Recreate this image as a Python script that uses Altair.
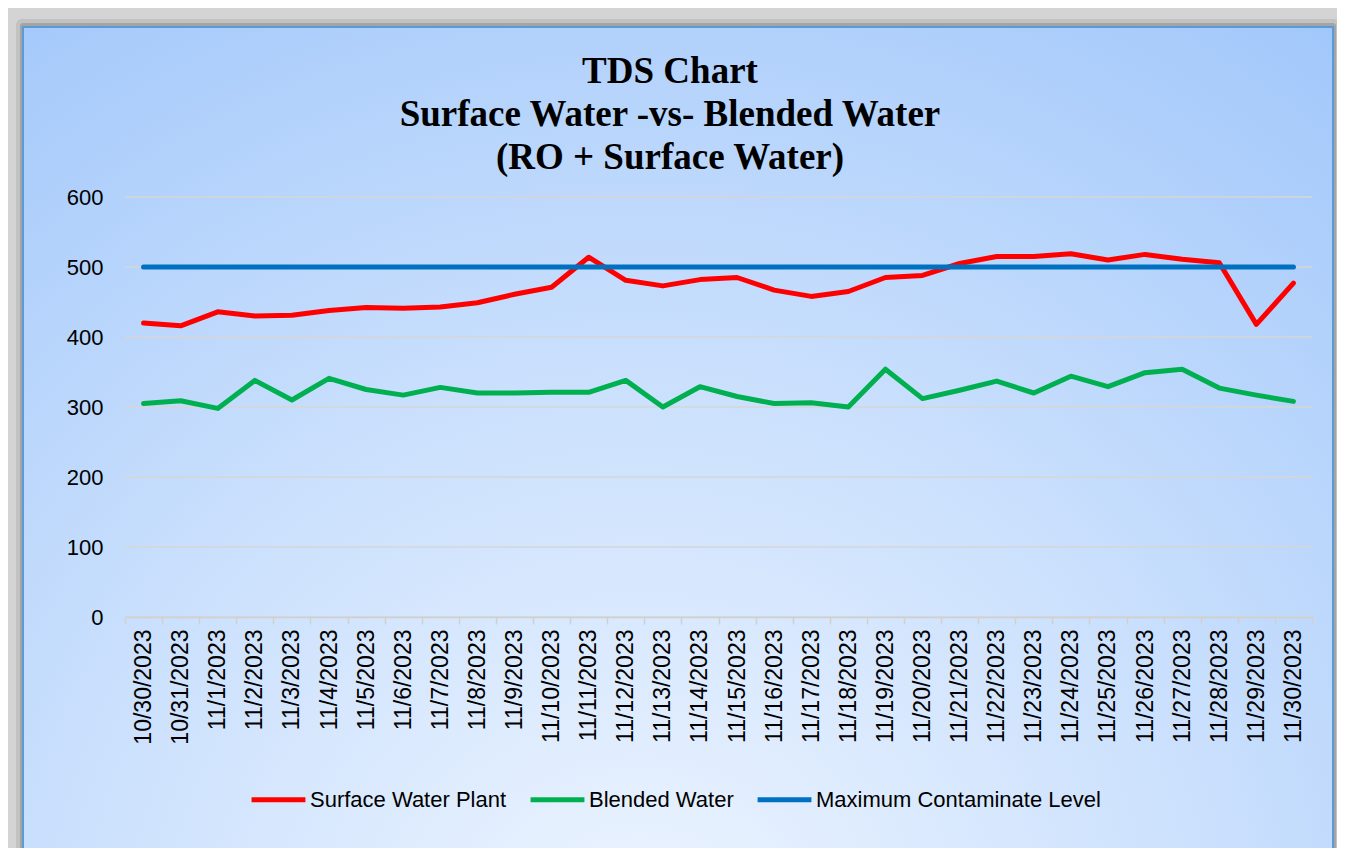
import altair as alt
import pandas as pd

dates = ["10/30/2023", "10/31/2023"] + [f"11/{d}/2023" for d in range(1, 31)]
surface = [420, 416, 436, 430, 431, 438, 442, 441, 443, 449, 461, 471, 514, 481, 473, 482,
           485, 467, 458, 465, 485, 488, 505, 515, 515, 519, 510, 518, 511, 506, 418, 477]
blended = [305, 309, 298, 338, 310, 341, 325, 317, 328, 320, 320, 321, 321, 338, 300, 329,
           315, 305, 306, 300, 354, 312, 324, 337, 320, 344, 329, 349, 354, 327, 317, 308]
mcl = [500] * len(dates)
series_names = ["Surface Water Plant", "Blended Water", "Maximum Contaminate Level"]
series_colors = ["#ff0000", "#00b050", "#0070c0"]
y_ticks = [0, 100, 200, 300, 400, 500, 600]
title_lines = ["TDS Chart", "Surface Water -vs- Blended Water", "(RO + Surface Water)"]

W, H = 1187, 420

frames = []
for name, vals in zip(series_names, [surface, blended, mcl]):
    frames.append(pd.DataFrame({"date": dates, "value": vals, "series": name}))
df = pd.concat(frames, ignore_index=True)

one = pd.DataFrame({"a": [0]})

x_enc = alt.X("date:N", sort=dates, bandPosition=0.5,
              scale=alt.Scale(type="band", paddingInner=0, paddingOuter=0),
              axis=alt.Axis(title=None, labelAngle=270, tickBand="extent", grid=False,
                            labelFont="Liberation Sans", labelFontSize=23, labelColor="#000000",
                            domainColor="#d0d0d0", domainWidth=1.5, tickColor="#d0d0d0",
                            tickWidth=1.5, tickSize=7, labelPadding=5, zindex=1))
y_scale = alt.Scale(domain=[0, 600], nice=False, zero=True)
y_axis = alt.Axis(title=None, values=y_ticks, grid=False, domain=False, ticks=False,
                  labelFont="Liberation Sans", labelFontSize=22, labelColor="#000000",
                  labelPadding=22, zindex=1)
y_enc = alt.Y("value:Q", scale=y_scale, axis=y_axis)
color_enc = alt.Color("series:N", scale=alt.Scale(domain=series_names, range=series_colors),
                      legend=alt.Legend(title=None, orient="none", direction="horizontal",
                                        legendX=124, legendY=573, symbolType="stroke",
                                        symbolSize=2900, symbolStrokeWidth=5,
                                        labelFont="Liberation Sans", labelFontSize=22,
                                        labelColor="#000000", labelOffset=2, columnPadding=13,
                                        labelLimit=400))

shadow2 = alt.Chart(one).mark_rect(fill="#c2c2c2", cornerRadius=6).encode(
    x=alt.value(-109), x2=alt.value(1215), y=alt.value(-178), y2=alt.value(660))
shadow1 = alt.Chart(one).mark_rect(fill="#a4a4a4", cornerRadius=3).encode(
    x=alt.value(-105), x2=alt.value(1211), y=alt.value(-174), y2=alt.value(656))
box = alt.Chart(one).mark_rect(
    fill=alt.Gradient(gradient="radial", x1=0.47, y1=0.9, r1=0, x2=0.47, y2=0.9, r2=0.95,
                      stops=[alt.GradientStop(color="#eef5ff", offset=0),
                             alt.GradientStop(color="#cce1fd", offset=0.45),
                             alt.GradientStop(color="#9cc4fa", offset=1)]),
    stroke="#5b9bd5", strokeWidth=2).encode(
    x=alt.value(-102), x2=alt.value(1208), y=alt.value(-170), y2=alt.value(653))

grid = alt.Chart(pd.DataFrame({"value": y_ticks})).mark_rule(color="#d6d6d6", strokeWidth=1.5).encode(
    x=alt.value(0), x2=alt.value(W), y=alt.Y("value:Q", scale=y_scale, axis=y_axis))

title = alt.Chart(one).mark_text(font="Liberation Serif", fontSize=37, fontWeight="bold",
                                 lineHeight=43, align="center", baseline="middle",
                                 color="#000000").encode(
    x=alt.value(545), y=alt.value(-125), text=alt.value(title_lines))

lines = []
for name in series_names:
    lines.append(alt.Chart(df[df.series == name]).mark_line(strokeWidth=5, strokeCap="round",
                                                            strokeJoin="round").encode(
        x=x_enc, y=y_enc, color=color_enc))

chart = alt.layer(shadow2, shadow1, box, grid, title, *lines).properties(
    width=W, height=H, background="#d4d4d4",
    padding={"left": 117, "top": 189, "right": 25, "bottom": 231},
    autosize=alt.AutoSizeParams(type="none"),
).configure_view(stroke=None)

chart.save("out.html", embed_options={"renderer": "svg", "actions": False})
